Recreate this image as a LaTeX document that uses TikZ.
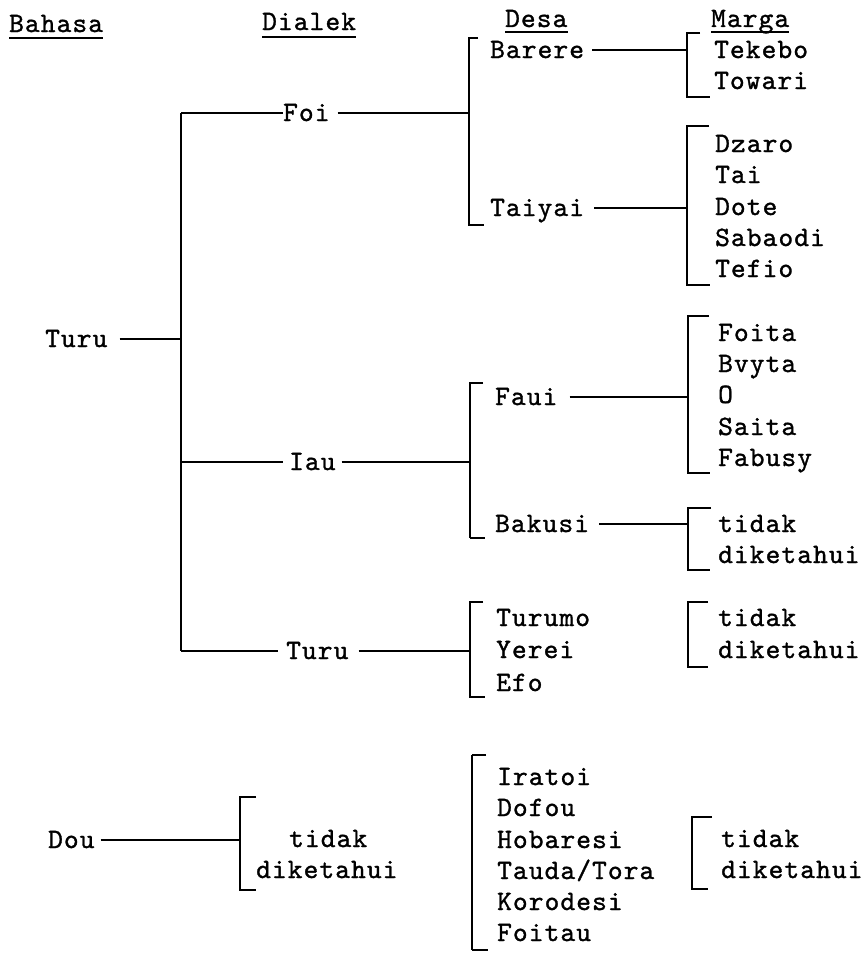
\documentclass[tikz,border=0pt]{standalone}
\usepackage{fontspec}
\newfontfamily\typewr{lmmono10-regular.otf}[LetterSpace=4,FakeBold=1.2]
\begin{document}
\begin{tikzpicture}[x=1pt,y=-1pt,
  lbl/.style={anchor=west, inner sep=0pt, text height=16pt, text depth=0pt,
    font={\typewr\fontsize{28}{31}\selectfont}},
  ln/.style={line width=1.9pt},
  thin/.style={line width=1.2pt},
  hd/.style={line width=1.8pt}]
\useasboundingbox (0,0) rectangle (861,953);

% column headings
\node[lbl] (hBahasa) at (9,24) {Bahasa};
\node[lbl] (hDialek) at (262,22) {Dialek};
\node[lbl] (hDesa) at (505,19) {Desa};
\node[lbl] (hMarga) at (711,19) {Marga};
\draw[hd] ([yshift=-6pt]hBahasa.south west) -- ([yshift=-6pt]hBahasa.south east);
\draw[hd] ([yshift=-7pt]hDialek.south west) -- ([yshift=-7pt]hDialek.south east);
\draw[hd] ([yshift=-5pt]hDesa.south west) -- ([yshift=-5pt]hDesa.south east);
\draw[hd] ([yshift=-5pt]hMarga.south west) -- ([yshift=-5pt]hMarga.south east);

% language Turu and its dialects
\node[lbl] (turuB) at (45,339) {Turu};
\coordinate (dT) at (181,113);
\coordinate (dM) at (181,370);
\coordinate (dB) at (181,651);
\draw[ln] ([xshift=12pt]turuB.east) -- (turuB.east -| dT);
\draw[ln] (dT) -- (dM);
\draw[thin] (dM) -- (dB);

\node[lbl] (foi) at (283,113) {Foi};
\node[lbl] (iau) at (289,462) {Iau};
\node[lbl] (turuD) at (286,651) {Turu};
\draw[ln] (dT) -- (foi.west);
\draw[thin] (dT |- iau.west) -- ([xshift=-6pt]iau.west);
\draw[ln] (dB) -- ([xshift=-8pt]turuD.west);

% villages of Foi
\coordinate (sF1) at (469,38);
\coordinate (sF2) at (469,225);
\draw[ln] ([xshift=8pt]foi.east) -- (foi.east -| sF1);
\draw[ln] ([xshift=9pt]sF1) -- (sF1) -- (sF2) -- ([xshift=15pt]sF2);
\node[lbl] (barere) at (490,50) {Barere};
\node[lbl] (taiyai) at (490,208) {Taiyai};

\coordinate (mA1) at (687,33);
\coordinate (mA2) at (687,97);
\draw[ln] ([xshift=8pt]barere.east) -- (barere.east -| mA1);
\draw[ln] ([xshift=13pt]mA1) -- (mA1) -- (mA2) -- ([xshift=23pt]mA2);
\node[lbl] (tekebo) at (714,50) {Tekebo};
\node[lbl] (towari) at (714,81) {Towari};

\coordinate (mB1) at (687,126);
\coordinate (mB2) at (687,285);
\draw[ln] ([xshift=10pt]taiyai.east) -- (taiyai.east -| mB1);
\draw[ln] ([xshift=22pt]mB1) -- (mB1) -- (mB2) -- ([xshift=23pt]mB2);
\node[lbl] (dzaro) at (715,144) {Dzaro};
\node[lbl] (tai) at (715,175) {Tai};
\node[lbl] (dote) at (715,207) {Dote};
\node[lbl] (sabaodi) at (715,238) {Sabaodi};
\node[lbl] (tefio) at (715,269) {Tefio};

% villages of Iau
\coordinate (sI1) at (470,383);
\coordinate (sI2) at (470,538);
\draw[ln] ([xshift=6pt]iau.east) -- (iau.east -| sI1);
\draw[thin] ([xshift=13pt]sI1) -- (sI1) -- (sI2);
\draw[ln] (sI2) -- ([xshift=15pt]sI2);
\node[lbl] (faui) at (495,397) {Faui};
\node[lbl] (bakusi) at (495,524) {Bakusi};

\coordinate (mC1) at (688,316);
\coordinate (mC2) at (688,473);
\draw[ln] ([xshift=12pt]faui.east) -- (faui.east -| mC1);
\draw[ln] ([xshift=21pt]mC1) -- (mC1) -- (mC2) -- ([xshift=22pt]mC2);
\node[lbl] (foita) at (718,333) {Foita};
\node[lbl] (bvyta) at (718,364) {Bvyta};
\node[lbl] (o) at (718,395) {O};
\node[lbl] (saita) at (718,427) {Saita};
\node[lbl] (fabusy) at (718,458) {Fabusy};

\coordinate (mD1) at (688,508);
\coordinate (mD2) at (688,570);
\draw[thin] ([xshift=10pt]bakusi.east) -- (bakusi.east -| mD1);
\draw[ln] ([xshift=23pt]mD1) -- (mD1) -- (mD2) -- ([xshift=22pt]mD2);
\node[lbl] (tdkA) at (718,524) {tidak};
\node[lbl] (dktA) at (718,555) {diketahui};

% villages of dialect Turu
\coordinate (sT1) at (470,602);
\coordinate (sT2) at (470,697);
\draw[ln] ([xshift=10pt]turuD.east) -- ([xshift=-50pt]turuD.east -| sT1);
\draw[thin] ([xshift=-50pt]turuD.east -| sT1) -- (turuD.east -| sT1);
\draw[ln] ([xshift=13pt]sT1) -- (sT1) -- (sT2) -- ([xshift=15pt]sT2);
\node[lbl] (turumo) at (496,618) {Turumo};
\node[lbl] (yerei) at (496,650) {Yerei};
\node[lbl] (efo) at (496,683) {Efo};

\coordinate (mE1) at (688,602);
\coordinate (mE2) at (688,667);
\draw[ln] ([xshift=20pt]mE1) -- (mE1) -- (mE2) -- ([xshift=20pt]mE2);
\node[lbl] (tdkB) at (718,618) {tidak};
\node[lbl] (dktB) at (718,650) {diketahui};

% language Dou
\node[lbl] (dou) at (48,840) {Dou};
\coordinate (dD1) at (240,797);
\coordinate (dD2) at (240,890);
\draw[ln] ([xshift=6pt]dou.east) -- (dou.east -| dD1);
\draw[ln] ([xshift=16pt]dD1) -- (dD1) -- (dD2) -- ([xshift=16pt]dD2);
\node[lbl] (tdkC) at (289,839) {tidak};
\node[lbl] (dktC) at (256,870) {diketahui};

\coordinate (sD1) at (472,755);
\coordinate (sD2) at (472,950);
\draw[ln] ([xshift=14pt]sD1) -- (sD1);
\draw[thin] (sD1) -- (sD2);
\draw[ln] (sD2) -- ([xshift=16pt]sD2);
\node[lbl] (iratoi) at (497,777) {Iratoi};
\node[lbl] (dofou) at (497,808) {Dofou};
\node[lbl] (hobaresi) at (497,840) {Hobaresi};
\node[lbl] (tauda) at (497,871) {Tauda/Tora};
\node[lbl] (korodesi) at (497,902) {Korodesi};
\node[lbl] (foitau) at (497,933) {Foitau};

\coordinate (mF1) at (692,817);
\coordinate (mF2) at (692,889);
\draw[ln] ([xshift=20pt]mF1) -- (mF1) -- (mF2) -- ([xshift=16pt]mF2);
\node[lbl] (tdkD) at (721,839) {tidak};
\node[lbl] (dktD) at (721,870) {diketahui};
\end{tikzpicture}
\end{document}
